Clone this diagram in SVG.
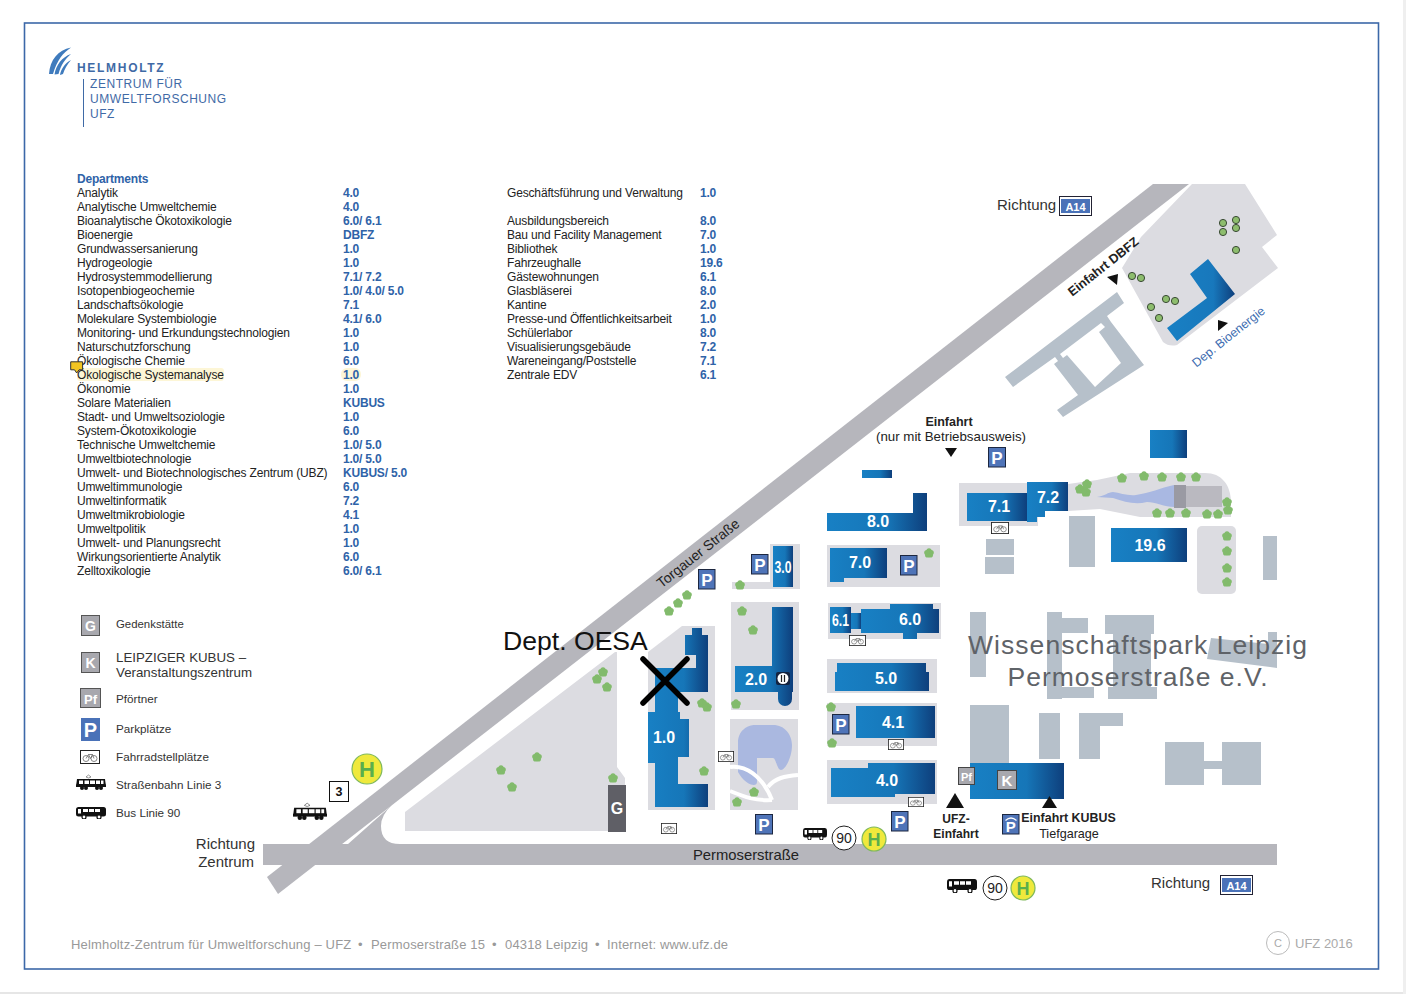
<svg xmlns="http://www.w3.org/2000/svg" width="1406" height="994" viewBox="0 0 1406 994">
<style>
text{font-family:"Liberation Sans",Arial,sans-serif}
.t{font-size:12px;fill:#222;letter-spacing:-.16px}
.v{font-size:12px;fill:#2f63a8;font-weight:700;letter-spacing:-.2px}
.l{font-size:11.7px;fill:#333}
.b{font-size:16px;font-weight:700;fill:#fff;text-anchor:middle}
.bg{fill:#dcdce1}
.gb{fill:#b6c0ca}
.road{fill:#b6b6bc}
.c{text-anchor:middle;fill:#222}
.lg{font-size:12px;fill:#3f6aa6;font-weight:400;letter-spacing:.55px}
.sg{fill:#a8a8ae;stroke:#444;stroke-width:1}
.sgt{fill:#fff;font-weight:700;text-anchor:middle}
.pt{fill:#fff;font-weight:700;font-size:17px;text-anchor:middle}
.ft{font-size:13px;fill:#999;letter-spacing:.17px}
</style>
<defs>
<linearGradient id="g"><stop offset="0" stop-color="#1880c4"/><stop offset=".6" stop-color="#1676b8"/><stop offset="1" stop-color="#0e3f7c"/></linearGradient>
<linearGradient id="g2"><stop offset="0" stop-color="#1880c4"/><stop offset=".68" stop-color="#1878bc"/><stop offset="1" stop-color="#0e3f7c"/></linearGradient>
<symbol id="tree" viewBox="-5 -5 10 10" overflow="visible"><g fill="#82bb6c"><circle cx="0" cy="-2.2" r="2.6"/><circle cx="2.2" cy="-.5" r="2.6"/><circle cx="1.4" cy="2" r="2.6"/><circle cx="-1.4" cy="2" r="2.6"/><circle cx="-2.2" cy="-.5" r="2.6"/></g></symbol>
<symbol id="bt" viewBox="-5 -5 10 10" overflow="visible"><circle r="3.6" fill="#8dbd6d" stroke="#3a4a35" stroke-width="1"/></symbol>
<symbol id="bike" viewBox="0 0 20 14" preserveAspectRatio="none"><rect x=".5" y=".5" width="19" height="13" fill="#fff" stroke="#222" stroke-width="1"/><g fill="none" stroke="#666" stroke-width=".8"><circle cx="6" cy="8.5" r="3"/><circle cx="14" cy="8.5" r="3"/><path d="M6 8.500 8.500 4.500H12.500L14 8.500M8.500 4.500 10.500 8.500 12.500 4.500"/></g></symbol>
<symbol id="tram" viewBox="0 0 30 16" preserveAspectRatio="none"><path d="M10 3 12.500 1 15 3 12.500 4Z" fill="none" stroke="#555" stroke-width=".6"/><path d="M1 5H29L30 12.500H0Z" fill="#111"/><path d="M3 6.500H7V10H3ZM8.500 6.500H13V10H8.500ZM14 6.500H19V10H14ZM20 6.500H24V10H20ZM25 6.500H27.500V10H25Z" fill="#fff"/><rect x="0" y="10.500" width="30" height="2.500" fill="#111"/><circle cx="6" cy="14" r="2" fill="#111"/><circle cx="10" cy="14" r="2" fill="#111"/><circle cx="21" cy="14" r="2" fill="#111"/><circle cx="25" cy="14" r="2" fill="#111"/></symbol>
<symbol id="bus" viewBox="0 0 30 12" preserveAspectRatio="none"><rect x="0" y="0" width="30" height="9.500" rx="2.500" fill="#111"/><path d="M2 2H5V6.500H2ZM7 2H12V5H7ZM13 2H18V5H13ZM19 2H24V5H19Z" fill="#fff"/><circle cx="8" cy="10" r="2" fill="#fff" stroke="#111" stroke-width="1.200"/><circle cx="23" cy="10" r="2" fill="#fff" stroke="#111" stroke-width="1.200"/></symbol>
<symbol id="a14" viewBox="0 0 33 20" preserveAspectRatio="none"><rect x=".5" y=".5" width="32" height="19" fill="#fff" stroke="#223" stroke-width="1"/><rect x="2" y="3" width="29" height="14" fill="#4a72b8"/><text x="16.500" y="14.500" font-size="11" font-weight="700" text-anchor="middle" style="fill:#fff">A14</text></symbol>
</defs>
<rect width="1406" height="994" fill="#fff"/>
<rect x="0" y="992" width="1406" height="2" fill="#e6e6e6"/>
<rect x="1403" y="0" width="3" height="994" fill="#efefef"/>
<rect id="frame" x="24.500" y="23" width="1354" height="946" fill="#fff" stroke="#3c68a8" stroke-width="1.600"/>

<g id="logo">
<g fill="#3f7bbd"><path d="M49 74C50 60 58 50 71 47.500 63 53 57 60 53 74Z"/><path d="M54.500 74.500C56 65 62 57 71 54 65 59 61 65 58.500 74Z"/><path d="M60 75C61 69 65 63 71 60 67 65 64.500 69 63 74Z"/></g>
<text class="lg" x="77" y="72" style="letter-spacing:1.700px;font-weight:700">HELMHOLTZ</text>
<text class="lg" x="90" y="88">ZENTRUM FÜR</text>
<text class="lg" x="90" y="103">UMWELTFORSCHUNG</text>
<text class="lg" x="90" y="118">UFZ</text>
<path d="M83.500 79V127" stroke="#3f6aa6" stroke-width="1"/>
</g>

<g id="list">
<rect x="77" y="368" width="147" height="13" rx="3" fill="#fdf6d6"/>
<rect x="341" y="368" width="20" height="13" rx="6" fill="#fdf6d6"/>
<text x="77" y="183" style="font-size:12px;font-weight:700;fill:#2f63a8;letter-spacing:-.2px">Departments</text>
<text class="t" x="77" y="197">Analytik</text><text class="v" x="343" y="197">4.0</text>
<text class="t" x="77" y="211">Analytische Umweltchemie</text><text class="v" x="343" y="211">4.0</text>
<text class="t" x="77" y="225">Bioanalytische Ökotoxikologie</text><text class="v" x="343" y="225">6.0/ 6.1</text>
<text class="t" x="77" y="239">Bioenergie</text><text class="v" x="343" y="239">DBFZ</text>
<text class="t" x="77" y="253">Grundwassersanierung</text><text class="v" x="343" y="253">1.0</text>
<text class="t" x="77" y="267">Hydrogeologie</text><text class="v" x="343" y="267">1.0</text>
<text class="t" x="77" y="281">Hydrosystemmodellierung</text><text class="v" x="343" y="281">7.1/ 7.2</text>
<text class="t" x="77" y="295">Isotopenbiogeochemie</text><text class="v" x="343" y="295">1.0/ 4.0/ 5.0</text>
<text class="t" x="77" y="309">Landschaftsökologie</text><text class="v" x="343" y="309">7.1</text>
<text class="t" x="77" y="323">Molekulare Systembiologie</text><text class="v" x="343" y="323">4.1/ 6.0</text>
<text class="t" x="77" y="337">Monitoring- und Erkundungstechnologien</text><text class="v" x="343" y="337">1.0</text>
<text class="t" x="77" y="351">Naturschutzforschung</text><text class="v" x="343" y="351">1.0</text>
<text class="t" x="77" y="365">Ökologische Chemie</text><text class="v" x="343" y="365">6.0</text>
<text class="t" x="77" y="379">Ökologische Systemanalyse</text><text class="v" x="343" y="379">1.0</text>
<text class="t" x="77" y="393">Ökonomie</text><text class="v" x="343" y="393">1.0</text>
<text class="t" x="77" y="407">Solare Materialien</text><text class="v" x="343" y="407">KUBUS</text>
<text class="t" x="77" y="421">Stadt- und Umweltsoziologie</text><text class="v" x="343" y="421">1.0</text>
<text class="t" x="77" y="435">System-Ökotoxikologie</text><text class="v" x="343" y="435">6.0</text>
<text class="t" x="77" y="449">Technische Umweltchemie</text><text class="v" x="343" y="449">1.0/ 5.0</text>
<text class="t" x="77" y="463">Umweltbiotechnologie</text><text class="v" x="343" y="463">1.0/ 5.0</text>
<text class="t" x="77" y="477">Umwelt- und Biotechnologisches Zentrum (UBZ)</text><text class="v" x="343" y="477">KUBUS/ 5.0</text>
<text class="t" x="77" y="491">Umweltimmunologie</text><text class="v" x="343" y="491">6.0</text>
<text class="t" x="77" y="505">Umweltinformatik</text><text class="v" x="343" y="505">7.2</text>
<text class="t" x="77" y="519">Umweltmikrobiologie</text><text class="v" x="343" y="519">4.1</text>
<text class="t" x="77" y="533">Umweltpolitik</text><text class="v" x="343" y="533">1.0</text>
<text class="t" x="77" y="547">Umwelt- und Planungsrecht</text><text class="v" x="343" y="547">1.0</text>
<text class="t" x="77" y="561">Wirkungsorientierte Analytik</text><text class="v" x="343" y="561">6.0</text>
<text class="t" x="77" y="575">Zelltoxikologie</text><text class="v" x="343" y="575">6.0/ 6.1</text>
<path d="M70.700 361.800H82.600V369.800H79L76.700 373 74.500 369.800H70.700Z" fill="#f2c522" stroke="#333" stroke-width="1"/>
<text class="t" x="507" y="197">Geschäftsführung und Verwaltung</text><text class="v" x="700" y="197">1.0</text>
<text class="t" x="507" y="225">Ausbildungsbereich</text><text class="v" x="700" y="225">8.0</text>
<text class="t" x="507" y="239">Bau und Facility Management</text><text class="v" x="700" y="239">7.0</text>
<text class="t" x="507" y="253">Bibliothek</text><text class="v" x="700" y="253">1.0</text>
<text class="t" x="507" y="267">Fahrzeughalle</text><text class="v" x="700" y="267">19.6</text>
<text class="t" x="507" y="281">Gästewohnungen</text><text class="v" x="700" y="281">6.1</text>
<text class="t" x="507" y="295">Glasbläserei</text><text class="v" x="700" y="295">8.0</text>
<text class="t" x="507" y="309">Kantine</text><text class="v" x="700" y="309">2.0</text>
<text class="t" x="507" y="323">Presse-und Öffentlichkeitsarbeit</text><text class="v" x="700" y="323">1.0</text>
<text class="t" x="507" y="337">Schülerlabor</text><text class="v" x="700" y="337">8.0</text>
<text class="t" x="507" y="351">Visualisierungsgebäude</text><text class="v" x="700" y="351">7.2</text>
<text class="t" x="507" y="365">Wareneingang/Poststelle</text><text class="v" x="700" y="365">7.1</text>
<text class="t" x="507" y="379">Zentrale EDV</text><text class="v" x="700" y="379">6.1</text>
</g>

<g id="legend">
<rect class="sg" x="81.500" y="615.500" width="18" height="20" style="stroke:#555"/><text class="sgt" x="90.500" y="631" font-size="14">G</text>
<rect class="sg" x="81.500" y="652.500" width="18" height="20" style="stroke:#555"/><text class="sgt" x="90.500" y="667.500" font-size="14">K</text>
<rect class="sg" x="80.500" y="688.500" width="20" height="19" style="stroke:#555"/><text class="sgt" x="90.500" y="703.500" font-size="13">Pf</text>
<rect x="81" y="718" width="19" height="23" fill="#4a72b8"/><text class="pt" x="90.500" y="737" style="font-size:20px">P</text>
<use href="#bike" x="80" y="750" width="20" height="14"/>
<use href="#tram" x="76" y="774" width="30" height="16"/>
<use href="#bus" x="76" y="807" width="30" height="12"/>
<text class="l" x="116" y="628" style="font-size:11.400px">Gedenkstätte</text>
<text x="116" y="662" style="font-size:13.300px;fill:#333">LEIPZIGER KUBUS –</text>
<text x="116" y="677" style="font-size:13.300px;fill:#333">Veranstaltungszentrum</text>
<text class="l" x="116" y="703">Pförtner</text>
<text class="l" x="116" y="733">Parkplätze</text>
<text class="l" x="116" y="761">Fahrradstellplätze</text>
<text class="l" x="116" y="789">Straßenbahn Linie 3</text>
<text class="l" x="116" y="817">Bus Linie 90</text>
</g>

<g id="roads">
<polygon class="road" points="267,877 1153,184 1189,184 278,894"/>
<rect class="road" x="263" y="844" width="1014" height="21"/>
<path class="road" d="M392 805Q381 815 381 826 381 844 400 844V860H330Z"/>
<text transform="translate(701 557) rotate(-38.500)" class="c" style="font-size:14px">Torgauer Straße</text>
<text x="746" y="860" class="c" style="font-size:14.800px">Permoserstraße</text>
</g>

<g id="campus">
<polygon class="bg" points="405,812 615,652 617,652 617,767 625,778 625,831 405,831"/>
<polygon class="bg" points="648,652 682,626 715,626 715,810 648,810"/>
<rect class="bg" x="731" y="602" width="68" height="108"/>
<rect class="bg" x="730" y="719" width="68" height="91"/>
<path class="bg" d="M770 544H800V589H732V582H770Z"/>
<rect class="bg" x="827" y="545" width="113" height="42"/>
<rect class="bg" x="828" y="603" width="113" height="36"/>
<rect class="bg" x="827" y="659" width="110" height="34"/>
<rect class="bg" x="827" y="703" width="110" height="43"/>
<rect class="bg" x="827" y="760" width="110" height="44"/>
<rect class="bg" x="959" y="483" width="79" height="43"/>
<path class="bg" d="M1068 484 1097 480 1130 473H1205C1222 473 1230 485 1231 500V517H1140L1100 509 1068 511Z"/>
<rect class="bg" x="1197" y="526" width="39" height="68" rx="5"/>
<path class="bg" d="M1192 184H1245L1277 235 1262 247 1278 268 1177 345Q1169 347 1163 342L1122 268 1141 237Z"/>
<path d="M738 743C738 730 748 725 755 725H773C785 725 792 735 792 745 792 758 785 770 781 770 777 770 776 758 773 758H757V782C757 788 745 785 738 772Z" fill="#aab8e0"/>
<g fill="none" stroke="#fff" stroke-width="4"><path d="M730 767C745 765 762 775 772 800"/><path d="M768 787C775 778 785 776 798 775"/><path d="M730 791C745 797 755 801 772 800"/></g>
<path d="M1097 497C1105 496 1108 492 1113 492 1120 493 1128 496 1136 495 1150 493 1160 488 1174 485V507C1165 507 1155 502 1147 502 1135 505 1125 502 1113 498Z" fill="#a9b8e2"/>
<rect x="1174" y="485" width="12" height="23" fill="#9a9aa3"/>
<rect x="1186" y="486" width="36" height="21" fill="#bab9c0"/>
</g>

<g id="neighbours">
<rect class="gb" x="1069" y="516" width="26" height="51"/>
<rect class="gb" x="986" y="539" width="28" height="16"/>
<rect class="gb" x="985" y="557" width="29" height="17"/>
<rect class="gb" x="1263" y="536" width="14" height="44"/>
<rect class="gb" x="970" y="612" width="16" height="65"/>
<path class="gb" d="M1047 612H1062V618H1088V633H1062V687H1094V698H1062V699H1047Z"/>
<path class="gb" d="M1105 615H1154V634H1151V687H1157V699H1108V687H1113V634H1105Z"/>
<polygon class="gb" points="1211,638 1268,644 1268,632 1277,632 1277,668 1207,659"/>
<rect class="gb" x="970" y="705" width="39" height="58"/>
<rect class="gb" x="1039" y="713" width="21" height="46"/>
<path class="gb" d="M1079 713H1123V726H1100V759H1079Z"/>
<path class="gb" d="M1165 742H1204V761H1222V742H1261V785H1222V769H1204V785H1165Z"/>
<polygon class="gb" points="1005,377 1117,292 1124,303 1107,316 1111,322 1144,365 1063,417 1057,410 1078,395 1054,364 1058,361 1055,357 1013,387"/>
<polygon fill="#fff" points="1060,354 1101,323 1105,327 1099,332 1121,363 1095,387 1067,355 1063,358"/>
</g>

<g id="buildings">
<polygon fill="url(#g)" points="692,628 702,628 702,635 708,635 708,692 678,692 678,712 680,712 680,719 689,719 689,757 678,757 678,784 708,784 708,807 655,807 655,763 648,763 648,712 655,712 655,668 696,668 696,655 685,655 685,635 692,635"/>
<path fill="url(#g)" d="M772 607H793V692H792V699A7 7 0 0 1 778 699V692H735V666H772Z"/>
<rect fill="url(#g)" x="773" y="546" width="20" height="41"/>
<path fill="url(#g)" d="M830 548H887V578H844V582H830Z"/>
<rect fill="url(#g)" x="830" y="607" width="21" height="26"/>
<rect fill="url(#g)" x="851" y="613" width="10" height="16"/>
<path fill="url(#g)" d="M861 609H890V604H933V609H939V633H917V639H903V633H861Z"/>
<path fill="url(#g)" d="M837 663H926V672H929V691H835V672H837Z"/>
<rect fill="url(#g)" x="856" y="706" width="79" height="32"/>
<path fill="url(#g)" d="M831 768H868V763H935V794H895V797H831Z"/>
<path fill="url(#g)" d="M827 513H913V493H927V531H827Z"/>
<rect fill="url(#g)" x="862" y="470" width="30" height="8"/>
<rect fill="url(#g)" x="967" y="493" width="60" height="28"/>
<path fill="url(#g)" d="M1027 482H1068V511H1045V517H1037V522H1027Z"/>
<rect fill="url(#g)" x="1150" y="430" width="37" height="28"/>
<rect fill="url(#g)" x="1111" y="528" width="76" height="34"/>
<rect fill="url(#g)" x="970" y="763" width="94" height="36"/>
<polygon fill="url(#g2)" points="1208,259 1235,294 1177,341 1167,328 1207,298 1190,274"/>
<rect x="608" y="785" width="18" height="47" fill="#5f5f66"/>
<text class="b" x="617" y="814">G</text>
<text class="b" x="878" y="527">8.0</text><text class="b" x="999" y="512">7.1</text><text class="b" x="1048" y="503">7.2</text><text class="b" x="1150" y="551">19.6</text>
<text class="b" x="860" y="568">7.0</text><text class="b" x="840.500" y="626" textLength="17" lengthAdjust="spacingAndGlyphs">6.1</text><text class="b" x="910" y="625">6.0</text>
<text class="b" x="886" y="684">5.0</text><text class="b" x="893" y="728">4.1</text><text class="b" x="887" y="786">4.0</text>
<text class="b" x="664" y="743">1.0</text><text class="b" x="756" y="685">2.0</text><text class="b" x="783" y="573" textLength="17" lengthAdjust="spacingAndGlyphs">3.0</text>
<rect x="776" y="672" width="14" height="13" rx="2" fill="#14233f"/><circle cx="783" cy="678.500" r="5.500" fill="#fff"/><path d="M781.500 675V682M784.500 675V682" stroke="#222" stroke-width="1.200"/>
</g>

<g id="trees">
<use href="#tree" x="664" y="606" width="10" height="10"/><use href="#tree" x="673" y="598" width="10" height="10"/><use href="#tree" x="682" y="590" width="10" height="10"/>
<use href="#tree" x="735" y="580" width="10" height="10"/><use href="#tree" x="737" y="606" width="10" height="10"/><use href="#tree" x="748" y="625" width="10" height="10"/>
<use href="#tree" x="731" y="699" width="10" height="10"/><use href="#tree" x="697" y="698" width="10" height="10"/><use href="#tree" x="702" y="702" width="10" height="10"/>
<use href="#tree" x="699" y="766" width="10" height="10"/><use href="#tree" x="749" y="787" width="10" height="10"/><use href="#tree" x="732" y="797" width="10" height="10"/>
<use href="#tree" x="608" y="773" width="10" height="10"/><use href="#tree" x="598" y="667" width="10" height="10"/><use href="#tree" x="592" y="674" width="10" height="10"/><use href="#tree" x="602" y="682" width="10" height="10"/>
<use href="#tree" x="532" y="752" width="10" height="10"/><use href="#tree" x="496" y="765" width="10" height="10"/><use href="#tree" x="507" y="782" width="10" height="10"/>
<use href="#tree" x="924" y="548" width="10" height="10"/><use href="#tree" x="826" y="702" width="10" height="10"/><use href="#tree" x="827" y="738" width="10" height="10"/>
<use href="#tree" x="1117" y="473" width="10" height="10"/><use href="#tree" x="1139" y="471" width="10" height="10"/><use href="#tree" x="1157" y="472" width="10" height="10"/><use href="#tree" x="1176" y="472" width="10" height="10"/><use href="#tree" x="1191" y="472" width="10" height="10"/>
<use href="#tree" x="1222" y="497" width="10" height="10"/><use href="#tree" x="1223" y="505" width="10" height="10"/><use href="#tree" x="1213" y="509" width="10" height="10"/><use href="#tree" x="1202" y="509" width="10" height="10"/><use href="#tree" x="1181" y="508" width="10" height="10"/><use href="#tree" x="1165" y="508" width="10" height="10"/><use href="#tree" x="1152" y="508" width="10" height="10"/>
<use href="#tree" x="1075" y="484" width="10" height="10"/><use href="#tree" x="1082" y="479" width="10" height="10"/><use href="#tree" x="1081" y="487" width="10" height="10"/>
<use href="#tree" x="1222" y="531" width="10" height="10"/><use href="#tree" x="1222" y="546" width="10" height="10"/><use href="#tree" x="1222" y="563" width="10" height="10"/><use href="#tree" x="1222" y="577" width="10" height="10"/>
<use href="#bt" x="1218" y="218" width="10" height="10"/><use href="#bt" x="1231" y="215" width="10" height="10"/><use href="#bt" x="1218" y="227" width="10" height="10"/><use href="#bt" x="1231" y="223" width="10" height="10"/><use href="#bt" x="1231" y="245" width="10" height="10"/>
<use href="#bt" x="1127" y="271" width="10" height="10"/><use href="#bt" x="1136" y="273" width="10" height="10"/><use href="#bt" x="1161" y="294" width="10" height="10"/><use href="#bt" x="1170" y="296" width="10" height="10"/><use href="#bt" x="1146" y="302" width="10" height="10"/><use href="#bt" x="1154" y="313" width="10" height="10"/>
</g>

<g id="signs">
<g fill="#4f74b8" stroke="#1c2740" stroke-width="1">
<rect x="698.500" y="569.500" width="16.500" height="19.500"/><rect x="751.500" y="554.500" width="16.500" height="19.500"/><rect x="900.500" y="555.500" width="16.500" height="19.500"/><rect x="832.500" y="714.500" width="16.500" height="19.500"/><rect x="755.500" y="814.500" width="17" height="19.500"/><rect x="891.500" y="811.500" width="16.500" height="19.500"/><rect x="988.500" y="447.500" width="17" height="19.500"/><rect x="1002.500" y="814.500" width="16.500" height="19.500"/>
</g>
<text class="pt" x="706.800" y="585.500">P</text><text class="pt" x="759.800" y="570.500">P</text><text class="pt" x="908.800" y="571.500">P</text><text class="pt" x="840.800" y="730.500">P</text><text class="pt" x="764" y="830.500">P</text><text class="pt" x="899.800" y="827.500">P</text><text class="pt" x="997" y="463.500">P</text><text class="pt" x="1010.800" y="831.500" style="font-size:15px">P</text>
<path d="M1005.500 820.500Q1011 815.500 1016.500 820.500" fill="none" stroke="#fff" stroke-width="1.200"/>
<rect class="sg" x="958.500" y="767.500" width="16" height="17"/><text class="sgt" x="966.500" y="780.500" font-size="11">Pf</text>
<rect class="sg" x="997.500" y="770.500" width="19" height="19"/><text class="sgt" x="1007" y="785.500" font-size="15">K</text>
<use href="#bike" x="991" y="522" width="18" height="12"/><use href="#bike" x="849" y="635" width="17" height="11"/><use href="#bike" x="888" y="739" width="16" height="11"/><use href="#bike" x="908" y="797" width="16" height="10"/><use href="#bike" x="718" y="751" width="16" height="11"/><use href="#bike" x="661" y="823" width="16" height="11"/>
<use href="#tram" x="293" y="802" width="34" height="18"/>
<use href="#bus" x="803" y="828" width="24" height="12"/>
<use href="#bus" x="947" y="879" width="30" height="14"/>
<rect x="329.500" y="781.500" width="19" height="20" fill="#fff" stroke="#111"/><text x="339" y="796" style="font-size:12.500px;font-weight:700;fill:#111;text-anchor:middle">3</text>
<g fill="#efe93c" stroke="#7eb85c" stroke-width="1.200"><circle cx="367" cy="769" r="15"/><circle cx="874" cy="839" r="12"/><circle cx="1023" cy="888" r="12"/></g>
<text x="367" y="777" font-weight="700" font-size="22" style="fill:#5aae4e;text-anchor:middle">H</text><text x="874" y="845.500" font-weight="700" font-size="18" style="fill:#5aae4e;text-anchor:middle">H</text><text x="1023" y="894.500" font-weight="700" font-size="18" style="fill:#5aae4e;text-anchor:middle">H</text>
<g fill="#fff" stroke="#222"><circle cx="844" cy="838" r="12"/><circle cx="995" cy="888" r="12"/></g>
<text x="844" y="843" class="c" style="font-size:14px">90</text><text x="995" y="893" class="c" style="font-size:14px">90</text>
<use href="#a14" x="1059" y="196" width="33" height="20"/><use href="#a14" x="1220" y="875" width="33" height="20"/>
<g fill="#111"><polygon points="945,448 957,448 951,457"/><polygon points="946,808 964,808 955,793"/><polygon points="1042,808 1057,808 1049.500,796"/><polygon points="1107,277 1118,274 1117,285"/><polygon points="1218,320 1228,323 1218,331"/></g>
</g>

<g id="labels">
<text x="997" y="210" style="font-size:15px;fill:#333">Richtung</text>
<text x="1151" y="888" style="font-size:15px;fill:#333">Richtung</text>
<text x="255" y="849" style="font-size:15px;fill:#333;text-anchor:end">Richtung</text>
<text x="254" y="867" style="font-size:15px;fill:#333;text-anchor:end">Zentrum</text>
<text x="949" y="426" class="c" style="font-size:12.500px;font-weight:700">Einfahrt</text>
<text x="951" y="441" class="c" style="font-size:13.300px">(nur mit Betriebsausweis)</text>
<text x="956" y="823" class="c" style="font-size:12px;font-weight:700">UFZ-</text>
<text x="956" y="838" class="c" style="font-size:12px;font-weight:700">Einfahrt</text>
<text x="1068.500" y="822" class="c" style="font-size:12.400px;font-weight:700">Einfahrt KUBUS</text>
<text x="1069" y="838" class="c" style="font-size:12.600px">Tiefgarage</text>
<text transform="translate(1106 270) rotate(-38.500)" class="c" style="font-size:12.800px;font-weight:700">Einfahrt DBFZ</text>
<text transform="translate(1231 340) rotate(-38.500)" style="font-size:12.400px;fill:#3d6cb0;text-anchor:middle">Dep. Bioenergie</text>
<text x="1138" y="654" style="font-size:26.500px;letter-spacing:1.050px;fill:#5f6368;text-anchor:middle">Wissenschaftspark Leipzig</text>
<text x="1138" y="686" style="font-size:26.500px;letter-spacing:1px;fill:#5f6368;text-anchor:middle">Permoserstraße e.V.</text>
<text x="503" y="650" style="font-size:26.600px;fill:#111">Dept. OESA</text>
<path d="M643 659 687 703M687 659 643 703" stroke="#000" stroke-width="5.500" stroke-linecap="round" fill="none"/>
</g>

<g id="footer">
<text class="ft" x="71" y="949">Helmholtz-Zentrum für Umweltforschung – UFZ</text>
<text class="ft" x="358" y="949">•</text>
<text class="ft" x="371" y="949">Permoserstraße 15</text>
<text class="ft" x="492" y="949">•</text>
<text class="ft" x="505" y="949">04318 Leipzig</text>
<text class="ft" x="595" y="949">•</text>
<text class="ft" x="607" y="949">Internet: www.ufz.de</text>
<circle cx="1278" cy="943" r="11.500" fill="none" stroke="#bbb"/>
<text x="1278" y="947" style="font-size:11px;fill:#aaa;text-anchor:middle">C</text>
<text x="1295" y="948" style="font-size:13px;fill:#aaa">UFZ 2016</text>
</g>
</svg>
